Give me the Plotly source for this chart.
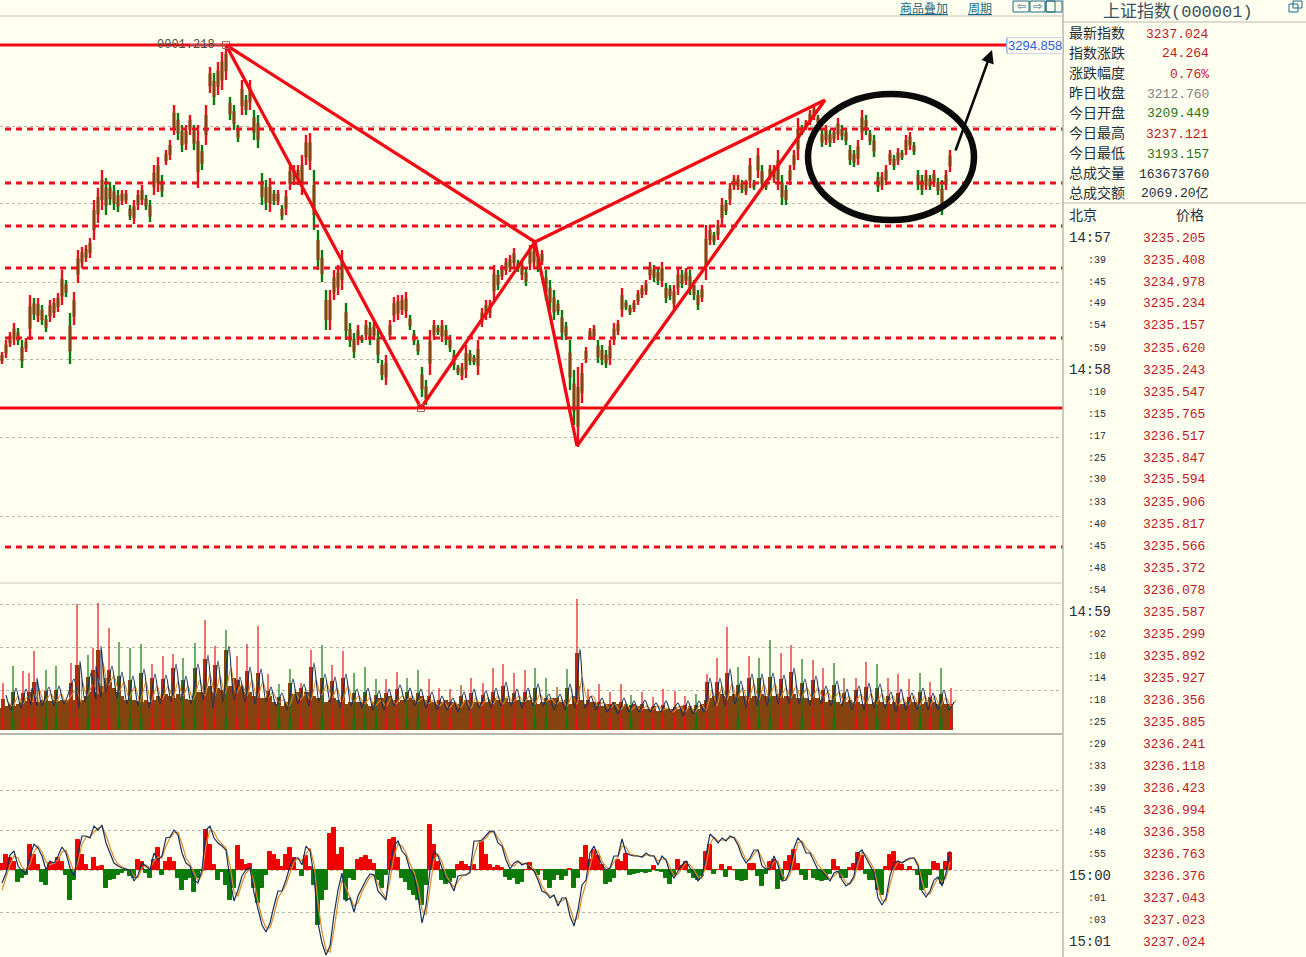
import plotly.graph_objects as go

# Shanghai Composite 1-min style chart
bar_high = [
    2988, 3000, 3008, 3017, 3012, 3000, 3002, 3045,
    3042, 3042, 3035, 3025, 3040, 3042, 3047, 3070,
    3060, 3027, 3048, 3090, 3093, 3095, 3102, 3140,
    3152, 3170, 3162, 3158, 3155, 3150, 3150, 3150,
    3135, 3140, 3150, 3155, 3145, 3140, 3175, 3183,
    3165, 3190, 3200, 3235, 3227, 3215, 3215, 3225,
    3215, 3215, 3195, 3235, 3273, 3267, 3278, 3288,
    3295, 3243, 3235, 3215, 3260, 3245, 3260, 3230,
    3225, 3167, 3160, 3162, 3150, 3150, 3135, 3150,
    3175, 3175, 3175, 3185, 3205, 3207, 3170, 3110,
    3090, 3050, 3050, 3070, 3075, 3090, 3037, 3017,
    3007, 3015, 3005, 3020, 3018, 3018, 3010, 2980,
    2985, 3020, 3043, 3045, 3045, 3048, 3025, 3010,
    3000, 2973, 2960, 3010, 3020, 3015, 3020, 3015,
    3005, 2990, 2975, 2977, 2995, 2990, 2985, 3000,
    3032, 3040, 3040, 3075, 3070, 3075, 3082, 3085,
    3092, 3080, 3080, 3072, 3095, 3095, 3085, 3090,
    3070, 3060, 3050, 3040, 3030, 3018, 3000, 2970,
    2973, 2977, 2993, 3012, 3015, 3000, 2995, 2990,
    3000, 3017, 3020, 3052, 3040, 3035, 3040, 3050,
    3055, 3060, 3078, 3075, 3072, 3078, 3057, 3055,
    3055, 3072, 3070, 3072, 3070, 3060, 3050, 3055,
    3115, 3115, 3108, 3120, 3142, 3140, 3157, 3165,
    3165, 3160, 3160, 3182, 3160, 3192, 3175, 3160,
    3175, 3175, 3190, 3165, 3155, 3175, 3190, 3222,
    3215, 3220, 3230, 3235, 3225, 3210, 3215, 3210,
    3212, 3222, 3215, 3212, 3195, 3190, 3200, 3230,
    3225, 3210, 3205, 3168, 3168, 3175, 3190, 3185,
    3192, 3190, 3205, 3208, 3198, 3170, 3165, 3170,
    3165, 3170, 3162, 3160, 3170, 3190,
]
bar_low = [
    2976, 2982, 2993, 2995, 2995, 2972, 2988, 3000,
    3020, 3018, 3015, 3008, 3018, 3022, 3028, 3035,
    3043, 2976, 3015, 3057, 3072, 3078, 3082, 3100,
    3117, 3130, 3125, 3135, 3130, 3128, 3135, 3136,
    3120, 3116, 3130, 3135, 3130, 3118, 3145, 3148,
    3143, 3175, 3180, 3205, 3200, 3188, 3190, 3205,
    3190, 3152, 3170, 3195, 3247, 3235, 3245, 3250,
    3260, 3220, 3210, 3198, 3225, 3225, 3230, 3200,
    3192, 3135, 3130, 3128, 3135, 3135, 3120, 3125,
    3150, 3155, 3155, 3145, 3175, 3170, 3110, 3070,
    3058, 3010, 3010, 3040, 3045, 3050, 3000, 2993,
    2982, 2995, 2997, 3000, 2995, 3000, 2977, 2960,
    2955, 3000, 3018, 3020, 3025, 3022, 3010, 2995,
    2985, 2943, 2935, 2965, 3000, 3005, 2998, 2995,
    2988, 2970, 2965, 2960, 2962, 2975, 2975, 2965,
    3013, 3020, 3022, 3040, 3050, 3060, 3065, 3068,
    3072, 3068, 3060, 3054, 3070, 3072, 3068, 3075,
    3040, 3030, 3020, 3025, 3000, 3000, 2950, 2915,
    2893, 2937, 2977, 3000, 3000, 2977, 2975, 2972,
    2975, 2995, 3005, 3023, 3030, 3025, 3028, 3035,
    3042, 3045, 3060, 3058, 3055, 3053, 3037, 3040,
    3030, 3045, 3052, 3055, 3045, 3040, 3030, 3038,
    3060, 3095, 3095, 3100, 3115, 3125, 3135, 3150,
    3150, 3147, 3145, 3152, 3150, 3162, 3150, 3150,
    3160, 3157, 3150, 3135, 3135, 3155, 3170, 3180,
    3205, 3210, 3215, 3220, 3215, 3193, 3195, 3193,
    3197, 3200, 3200, 3195, 3175, 3173, 3175, 3200,
    3205, 3195, 3183, 3148, 3150, 3155, 3175, 3170,
    3175, 3180, 3185, 3190, 3185, 3150, 3145, 3150,
    3150, 3153, 3145, 3125, 3150, 3168,
]

# volume pane
vol_base = [
    22, 24, 26, 24, 26, 28, 29, 28, 28, 28, 30, 28, 29, 30, 29, 30,
    30, 30, 30, 32, 30, 34, 38, 38, 42, 44, 52, 48, 42, 38, 34, 30,
    30, 30, 29, 28, 30, 28, 30, 34, 32, 36, 34, 32, 36, 32, 31, 30,
    34, 38, 38, 42, 44, 38, 42, 40, 38, 44, 52, 50, 44, 38, 38, 34,
    30, 32, 32, 34, 28, 26, 24, 28, 32, 36, 38, 34, 38, 38, 34, 32,
    30, 28, 30, 32, 30, 28, 26, 28, 30, 28, 28, 26, 24, 28, 32, 32,
    34, 34, 30, 28, 30, 32, 32, 30, 32, 34, 30, 28, 28, 26, 28, 30,
    28, 28, 26, 28, 30, 30, 28, 28, 28, 28, 30, 32, 30, 30, 32, 28,
    32, 30, 28, 30, 30, 28, 26, 28, 30, 30, 32, 28, 28, 30, 26, 34,
    44, 30, 26, 28, 28, 26, 24, 26, 26, 28, 26, 24, 26, 24, 26, 24,
    24, 21, 21, 24, 19, 19, 21, 21, 21, 21, 24, 21, 24, 21, 21, 26,
    30, 32, 34, 38, 36, 34, 34, 36, 38, 34, 34, 32, 34, 34, 36, 34,
    36, 34, 36, 32, 34, 34, 36, 32, 32, 32, 30, 32, 32, 30, 28, 30,
    30, 28, 26, 28, 30, 28, 28, 26, 28, 26, 28, 30, 28, 26, 26, 28,
    28, 26, 28, 30, 28, 28, 26, 28, 30, 28, 26, 28, 26, 26,
]
spike_t = [
    3, 13, 23, 29, 34, 46, 56, 71, 77, 88, 93, 98, 109, 119, 130, 141, 152, 163,
    173, 183, 195, 205, 215, 226, 237, 247, 258, 268, 279, 290, 301, 311, 322, 332, 343,
    354, 365, 376, 386, 397, 407, 418, 429, 439, 450, 461, 471, 483, 493, 503,
    514, 525, 535, 546, 557, 567, 577, 588, 599, 610, 621, 631, 642, 653,
    663, 675, 685, 696, 707, 717, 727, 738, 749, 759, 770, 781, 791, 802,
    813, 823, 834, 844, 856, 866, 877, 888, 898, 909, 920, 930, 941, 951,
]
spike_vol = [
    47, 64, 59, 57, 79, 60, 64, 67, 126, 75, 82, 127, 102, 88, 82, 86, 66, 74,
    76, 72, 87, 110, 84, 100, 74, 86, 104, 56, 46, 61, 47, 80, 85, 65, 79,
    57, 63, 51, 51, 58, 52, 60, 51, 42, 41, 45, 52, 47, 62, 66,
    57, 60, 62, 52, 43, 61, 131, 41, 46, 38, 46, 35, 38, 33,
    41, 39, 34, 36, 56, 72, 103, 63, 74, 72, 90, 77, 85, 71,
    70, 62, 67, 52, 52, 68, 66, 52, 56, 51, 57, 48, 62, 42,
]
spike_side = (
    "rgrrrggrrgrrrgggrrrggrrgrrrrggrrgrr"
    "gggrrggrrrbrrrrrrggbgrrrrrgrr"
    "rrrgrrrgrggrrgrrgbrrgrrrgrgr"
)
ma5_peak = [
    35, 42, 41, 42, 52, 43, 44, 51, 69, 57, 64, 84, 64, 58, 54, 61, 56, 55,
    66, 54, 66, 75, 69, 84, 53, 63, 61, 43, 37, 51, 46, 67, 56, 53, 56,
    41, 42, 39, 41, 45, 42, 41, 38, 34, 32, 38, 41, 39, 42, 48,
    41, 42, 46, 36, 36, 46, 81, 34, 32, 27, 32, 29, 30, 27,
    29, 27, 29, 29, 52, 52, 61, 49, 56, 56, 57, 55, 62, 51,
    54, 44, 49, 41, 44, 47, 46, 38, 41, 37, 42, 37, 40, 28,
]
ma5_trough = [
    20, 22, 25, 24, 24, 24, 26, 22, 28, 30, 32, 38, 32, 26, 24, 22, 26, 28,
    30, 26, 30, 22, 28, 30, 28, 26, 28, 24, 20, 26, 24, 28, 28, 22, 24,
    22, 20, 20, 24, 28, 24, 22, 20, 20, 18, 20, 22, 22, 24, 24,
    22, 24, 24, 20, 20, 22, 22, 20, 18, 16, 18, 18, 18, 18,
    18, 14, 16, 18, 24, 24, 26, 22, 24, 24, 26, 26, 26, 24,
    26, 24, 24, 20, 20, 22, 22, 18, 20, 20, 20, 20, 20, 24,
]
ma10_peak = [
    28, 34, 34, 36, 42, 36, 36, 40, 50, 46, 52, 68, 54, 48, 44, 48, 44, 44,
    48, 44, 50, 56, 54, 62, 46, 50, 48, 38, 30, 38, 36, 50, 46, 42, 44,
    34, 32, 30, 32, 34, 34, 32, 30, 28, 28, 30, 32, 32, 34, 34,
    34, 34, 36, 32, 30, 34, 52, 34, 28, 26, 26, 24, 24, 24,
    22, 24, 24, 26, 40, 44, 46, 42, 46, 46, 46, 42, 44, 42,
    42, 38, 38, 34, 36, 36, 36, 34, 32, 34, 34, 34, 32, 30,
]
ma10_trough = [
    24, 26, 28, 28, 28, 28, 28, 28, 34, 36, 38, 44, 38, 32, 28, 28, 30, 32,
    34, 30, 34, 34, 36, 36, 34, 32, 32, 28, 24, 30, 30, 34, 32, 28, 28,
    26, 24, 24, 26, 30, 28, 26, 24, 22, 22, 22, 24, 26, 26, 28,
    28, 26, 28, 26, 24, 26, 32, 24, 22, 20, 20, 20, 20, 20,
    18, 18, 18, 20, 24, 30, 32, 28, 30, 32, 32, 32, 32, 32,
    32, 30, 28, 26, 26, 26, 26, 24, 24, 24, 24, 24, 24, 26,
]

# MACD pane
macd_hist = [
    6, 15, 12, 8, -12, -8, -5, 25, 15, 5, -12, -15, 7, 5, 12, 8,
    -5, -30, -10, 30, 15, 5, 0, 12, 3, 4, -18, -10, -9, -5, -3, -1,
    -6, -8, 10, 8, -3, -8, 10, 22, -5, 8, 12, 8, -8, -20, -10, -8,
    -22, -8, -1, 40, 25, 5, -10, -2, -15, -30, -18, 24, 10, 5, 6, -18,
    -33, -18, -5, 18, 15, 10, 3, 15, 22, 12, 0, -6, 14, 3, -15, -55,
    -30, -20, 36, 42, 15, 22, -30, -8, -10, 10, 12, 14, 10, 6, -10, -18,
    -5, 30, 32, 12, -8, -12, -20, -25, -30, -35, -15, 45, 25, 8, -10, -14,
    -12, -8, 5, 8, 5, 3, 5, 0, 28, 15, 5, 2, 4, 2, -7, -10,
    -8, -14, -12, 0, 7, 0, -5, 0, -10, -18, -10, -5, -10, -6, 1, -18,
    -8, 12, 24, 10, 20, 14, 5, -14, -12, -8, 10, 8, 16, -5, -4, -3,
    -2, -3, -2, 4, -1, -2, -8, -14, -6, 10, 4, 8, -3, -8, -10, -6,
    18, 25, -4, 0, 5, -7, 3, 0, -10, -11, -10, 6, 6, -6, -16, -4,
    8, 10, -19, -10, 8, 14, 20, 6, -5, -10, 0, -8, -10, -11, -10, -4,
    10, 3, -8, -8, 2, 6, 17, 14, -4, -10, -10, -20, -25, 3, 15, 18,
    8, 5, 0, 3, 0, -5, -20, -18, -5, 8, 6, -14, 8, 17,
]
macd_dif = [
    -13, -3, 15, 19, 4, -1, -3, 14, 26, 22, 14, 0, 9, 7, 14, 23,
    17, 2, -6, 17, 34, 34, 32, 44, 40, 45, 27, 17, 7, 4, 2, 1,
    0, -11, -5, 7, 4, 0, 17, 10, 14, 32, 33, 40, 35, 17, 7, 4,
    -10, -13, 0, 40, 44, 32, 27, 24, 20, -10, -31, -20, -6, 0, 2, -23,
    -40, -55, -62, -53, -36, -21, -21, -10, 4, 12, 12, 5, 24, 19, -6, -53,
    -73, -85, -76, -45, -20, -3, -31, -28, -42, -26, -18, -10, -4, -5, -21, -25,
    -30, 4, 24, 29, 19, 14, 0, -6, -26, -53, -36, 0, 19, 14, 2, -10,
    -13, -21, -6, -5, -5, -2, 29, 29, 30, 34, 39, 38, 27, 24, 10, 1,
    7, 9, 5, 7, 2, -1, -10, -21, -23, -28, -25, -36, -28, -28, -46, -56,
    -40, -15, -10, 17, 24, 14, 5, 0, 2, 14, 14, 31, 17, 15, 14, 14,
    13, 17, 14, 14, 5, 14, 10, -3, -8, -1, 5, 9, 2, -3, -11, -6,
    15, 36, 32, 27, 32, 29, 34, 32, 25, 14, 7, 12, 20, 20, 4, 1,
    2, 14, 5, -11, -10, 0, 22, 32, 27, 17, 17, 9, 0, -1, -6, -11,
    -3, -1, -10, -16, -13, -6, 17, 20, 12, 4, -3, -28, -35, -28, -6, 7,
    9, 7, 10, 12, 12, 4, -21, -27, -21, -10, -7, -16, -3, 19,
]
macd_dea = [
    -20, -8, 5, 14, 12, 3, -1, 6, 18, 24, 18, 8, 5, 7, 10, 18,
    20, 9, -2, 8, 26, 33, 33, 38, 42, 43, 35, 23, 12, 6, 3, 1,
    0, -6, -8, 2, 5, 2, 9, 13, 12, 24, 32, 37, 38, 26, 12, 6,
    -3, -11, -5, 25, 40, 38, 30, 26, 22, 5, -22, -26, -13, -3, 1, -12,
    -32, -48, -58, -58, -45, -28, -21, -15, -3, 8, 12, 9, 16, 22, 6, -33,
    -62, -80, -82, -60, -32, -10, -18, -28, -36, -33, -22, -14, -7, -5, -13, -22,
    -28, -10, 14, 26, 24, 17, 6, -2, -16, -40, -45, -16, 10, 16, 8, -5,
    -12, -17, -12, -6, -5, -3, 14, 27, 29, 32, 37, 39, 32, 26, 16, 5,
    4, 8, 7, 6, 4, 1, -6, -16, -22, -26, -26, -32, -31, -28, -38, -51,
    -48, -27, -13, 5, 20, 19, 9, 3, 1, 8, 13, 24, 23, 16, 15, 14,
    13, 15, 15, 14, 9, 11, 11, 3, -6, -4, 2, 7, 5, 0, -7, -8,
    5, 26, 33, 29, 30, 30, 32, 33, 28, 19, 10, 10, 16, 20, 11, 3,
    2, 8, 9, -4, -10, -5, 12, 27, 29, 22, 18, 13, 5, 0, -4, -9,
    -6, -2, -6, -13, -14, -9, 6, 18, 15, 8, 1, -17, -31, -31, -16, 1,
    8, 8, 9, 11, 12, 7, -11, -24, -24, -15, -8, -12, -8, 8,
]

# drawn studies
solid_levels = [3295, 2932]
dash_levels = [3211, 3157, 3114, 3072, 3002, 2793]
pattern_t = [226, 421, 535, 577, 825]
pattern_price = [3295, 2932, 3098, 2894, 3240]

# quote panel
quote_names = ["最新指数", "指数涨跌", "涨跌幅度", "昨日收盘", "今日开盘", "今日最高", "今日最低", "总成交量", "总成交额"]
quote_values = ["3237.024", "24.264", "0.76%", "3212.760", "3209.449", "3237.121", "3193.157", "163673760", "2069.20亿"]
quote_colors = ["#c0181f", "#c0181f", "#c0181f", "#808080", "#2a7018", "#c0181f", "#2a7018", "#222f38", "#222f38"]
tick_times = [
    "14:57", ":39", ":45", ":49", ":54", ":59", "14:58", ":10", ":15", ":17", ":25",
    ":30", ":33", ":40", ":45", ":48", ":54", "14:59", ":02", ":10", ":14", ":18",
    ":25", ":29", ":33", ":39", ":45", ":48", ":55", "15:00", ":01", ":03", "15:01",
]
tick_prices = [
    "3235.205", "3235.408", "3234.978", "3235.234", "3235.157", "3235.620", "3235.243",
    "3235.547", "3235.765", "3236.517", "3235.847", "3235.594", "3235.906", "3235.817",
    "3235.566", "3235.372", "3236.078", "3235.587", "3235.299", "3235.892", "3235.927",
    "3236.356", "3235.885", "3236.241", "3236.118", "3236.423", "3236.994", "3236.358",
    "3236.763", "3236.376", "3237.043", "3237.023", "3237.024",
]

BG = "#fffff0"
RED = "#f00a14"
GREEN = "#0a7a12"
BROWN = "#84430f"
GRID = "#b5b5a8"
INK = "#222f38"
TEAL = "#1c6a86"
MONO = "Liberation Mono"
CJK = "Noto Sans CJK SC"
W, H = 1306, 957

bar_t = [2 + 4 * i for i in range(len(bar_high))]
side_color = {"r": "#e8101a", "g": GREEN, "b": BROWN}


def stems(xs, lows, highs):
    sx, sy = [], []
    for x, lo, hi in zip(xs, lows, highs):
        sx += [x, x, None]
        sy += [lo, hi, None]
    return sx, sy


def zigzag(t, peak, trough, peak_lag, trough_lag):
    xs, ys = [], []
    for x, p, q in zip(t, peak, trough):
        xs += [x + peak_lag, x + trough_lag]
        ys += [p, q]
    return xs[:-1], ys[:-1]


fig = go.Figure()

# price stems: colour follows the direction of the bar, brown body on top
for want_up, color in [(True, "#e8101a"), (False, GREEN)]:
    idx = [i for i in range(len(bar_t)) if (i == 0 or bar_high[i] >= bar_high[i - 1]) == want_up]
    sx, sy = stems([bar_t[i] for i in idx], [bar_low[i] for i in idx], [bar_high[i] for i in idx])
    fig.add_trace(go.Scatter(x=sx, y=sy, mode="lines", line=dict(color=color, width=2.4), yaxis="y", hoverinfo="skip"))
body_lo = [lo + (hi - lo) * 0.25 for lo, hi in zip(bar_low, bar_high)]
body_hi = [lo + (hi - lo) * 0.75 for lo, hi in zip(bar_low, bar_high)]
sx, sy = stems(bar_t, body_lo, body_hi)
fig.add_trace(go.Scatter(x=sx, y=sy, mode="lines", line=dict(color=BROWN, width=3), yaxis="y", hoverinfo="skip"))

# harmonic pattern legs
for a, b in [(0, 1), (1, 2), (2, 3), (3, 4), (0, 2), (2, 4)]:
    fig.add_trace(go.Scatter(
        x=[pattern_t[a], pattern_t[b]], y=[pattern_price[a], pattern_price[b]],
        mode="lines", line=dict(color=RED, width=3.3), yaxis="y", hoverinfo="skip",
    ))
fig.add_trace(go.Scatter(
    x=pattern_t[:2], y=pattern_price[:2], mode="markers", yaxis="y", hoverinfo="skip",
    marker=dict(symbol="square-open", size=7, color="#a06a60", line=dict(width=1)),
))

# volume: brown mass, shoulders up to the fast average, then the coloured columns
fig.add_trace(go.Bar(x=bar_t, y=vol_base, width=4, marker=dict(color=BROWN, line_width=0), yaxis="y2", hoverinfo="skip"))
sx, sy = stems(spike_t, [0] * len(spike_t), [p - 4 for p in ma5_peak])
fig.add_trace(go.Scatter(x=sx, y=sy, mode="lines", line=dict(color=BROWN, width=4), yaxis="y2", hoverinfo="skip"))
for side, color in side_color.items():
    idx = [i for i, s in enumerate(spike_side) if s == side]
    tt = [spike_t[i] for i in idx]
    vv = [spike_vol[i] for i in idx]
    sx, sy = stems(tt, [0] * len(tt), [min(12, v) for v in vv])
    fig.add_trace(go.Scatter(x=sx, y=sy, mode="lines", line=dict(color=color, width=2.6), yaxis="y2", hoverinfo="skip"))
    sx, sy = stems(tt, [0] * len(tt), vv)
    fig.add_trace(go.Scatter(x=sx, y=sy, mode="lines", line=dict(color=color, width=1.2), yaxis="y2", hoverinfo="skip"))
xs, ys = zigzag(spike_t, ma10_peak, ma10_trough, 5, 10)
fig.add_trace(go.Scatter(x=xs, y=ys, mode="lines", line=dict(color="#dd8a2c", width=1.1, shape="spline", smoothing=0.7), yaxis="y2", hoverinfo="skip"))
xs, ys = zigzag(spike_t, ma5_peak, ma5_trough, 3, 8)
fig.add_trace(go.Scatter(x=xs, y=ys, mode="lines", line=dict(color="#16305c", width=1.1, shape="spline", smoothing=0.7), yaxis="y2", hoverinfo="skip"))

# MACD
hist_colors = ["#f00000" if v >= 0 else "#0b7a0b" for v in macd_hist]
fig.add_trace(go.Bar(x=bar_t, y=macd_hist, width=4, marker=dict(color=hist_colors, line=dict(color=hist_colors, width=1)), yaxis="y3", hoverinfo="skip"))
fig.add_trace(go.Scatter(x=bar_t, y=macd_dea, mode="lines", line=dict(color="#dd8a2c", width=1.2), yaxis="y3", hoverinfo="skip"))
fig.add_trace(go.Scatter(x=bar_t, y=macd_dif, mode="lines", line=dict(color="#16305c", width=1.2), yaxis="y3", hoverinfo="skip"))

for level in solid_levels:
    fig.add_shape(type="line", xref="x", yref="y", x0=0, x1=1063 if level == solid_levels[1] else 1006, y0=level, y1=level, line=dict(color=RED, width=3))
for level in dash_levels:
    fig.add_shape(type="line", xref="x", yref="y", x0=5, x1=1063, y0=level, y1=level, line=dict(color="#e8101f", width=3, dash="6px,5px"))

# circle round the last sessions and the arrow out of it
fig.add_shape(type="circle", xref="x", yref="y", x0=808, x1=974, y0=3246, y1=3120, line=dict(color="#0a0a0a", width=6.5))
fig.add_annotation(x=992, y=3290, ax=955, ay=3188, xref="x", yref="y", axref="x", ayref="y", text="", showarrow=True,
                   arrowhead=2, arrowsize=1, arrowwidth=2.6, arrowcolor="#0a0a0a")
fig.add_shape(type="line", xref="x", yref="y", x0=190, x1=226, y0=3295, y1=3295, line=dict(color="#8a8078", width=1))


def px(x):
    return x / W


def py(y):
    return 1 - y / H


def label(x, y, text, size=14, color=INK, family=CJK, anchor="left", **kw):
    fig.add_annotation(x=px(x), y=py(y), xref="paper", yref="paper", text=text, showarrow=False, xanchor=anchor, yanchor="middle",
                       font=dict(family=family, size=size, color=color), borderpad=0, **kw)


def box(x0, x1, y0, y1, color=TEAL):
    fig.add_shape(type="rect", xref="paper", yref="paper", x0=px(x0), x1=px(x1), y0=py(y0), y1=py(y1), line=dict(color=color, width=1))


label(156, 45, "0001.218", size=12, color="#4a4a44", family=MONO)
label(1035, 45.5, "3294.858", size=13, color="#2a62d8", family="Liberation Sans", anchor="center", bgcolor=BG)
box(1007, 1063, 38, 53, "#2a62d8")

# separators
rules = [(0, 1063, 16, 16, "#c4c4ba", 1), (0, 1063, 583, 583, "#c4c4ba", 1), (0, 1063, 734, 734, "#b8b8b0", 2),
         (1063, 1063, 0, 957, "#b8b8b0", 1.5), (1063, 1306, 22, 22, "#b8b8b0", 1), (1063, 1306, 203, 203, "#b8b8b0", 1)]
for x0, x1, y0, y1, color, width in rules:
    fig.add_shape(type="line", xref="paper", yref="paper", x0=px(x0), x1=px(x1), y0=py(y0), y1=py(y1), line=dict(color=color, width=width))

# toolbar
label(899, 7, "<u>商品叠加</u>", size=12, color=TEAL)
label(967, 7, "<u>周期</u>", size=12, color=TEAL)
for x0, x1, glyph in [(1013, 1029, "⇦"), (1030, 1045, "⇨")]:
    box(x0, x1, 1, 12)
    label((x0 + x1) / 2, 6.5, glyph, size=11, color=TEAL, family="DejaVu Sans", anchor="center")
box(1046, 1062, 1, 12)
box(1046, 1055, 1, 12)
box(1289, 1298, 4, 12)
box(1293, 1302, 1, 8)

# quote panel
label(1178, 12.3, "上证指数(000001)", size=17, color="#3a4f5e", family="Liberation Mono, Noto Sans CJK SC", anchor="center")
for i, (name, value, color) in enumerate(zip(quote_names, quote_values, quote_colors)):
    label(1068, 32 + 20 * i, name, size=14)
    label(1210, 34 + 20 * i, value, size=13, color=color, family="Liberation Mono, Noto Sans CJK SC", anchor="right")
label(1068, 214, "北京", size=14)
label(1205, 214, "价格", size=14, anchor="right")
for i, (when, price) in enumerate(zip(tick_times, tick_prices)):
    row = 238 + 22 * i
    if when.startswith(":"):
        label(1087, row, when, size=10, family=MONO)
    else:
        label(1068, row, when, size=14, family=MONO)
    label(1142, row, price, size=13, color="#c0181f", family=MONO)

price_axis = dict(domain=[py(583), py(17)], range=[2757, 3323], tickvals=[3214, 3137, 3058, 2981, 2903, 2824])
vol_axis = dict(domain=[py(733), py(583)], range=[-3, 147], tickvals=[126, 83, 40])
macd_axis = dict(domain=[py(957), py(735)], range=[-87, 135], tickvals=[80, 40, 0, -42])
for axis in (price_axis, vol_axis, macd_axis):
    axis.update(showticklabels=False, ticks="", zeroline=False, showline=False, showgrid=True, gridcolor=GRID, griddash="dot", gridwidth=1, anchor="x", fixedrange=True)

fig.update_layout(
    width=W, height=H, margin=dict(l=0, r=0, t=0, b=0), paper_bgcolor=BG, plot_bgcolor=BG, showlegend=False, barmode="overlay", bargap=0,
    xaxis=dict(domain=[0, 1063 / W], range=[0, 1063], visible=False, fixedrange=True),
    yaxis=price_axis, yaxis2=vol_axis, yaxis3=macd_axis,
)

fig.write_html("out.html", config=dict(displayModeBar=False), post_script="document.body.style.margin='0';")
